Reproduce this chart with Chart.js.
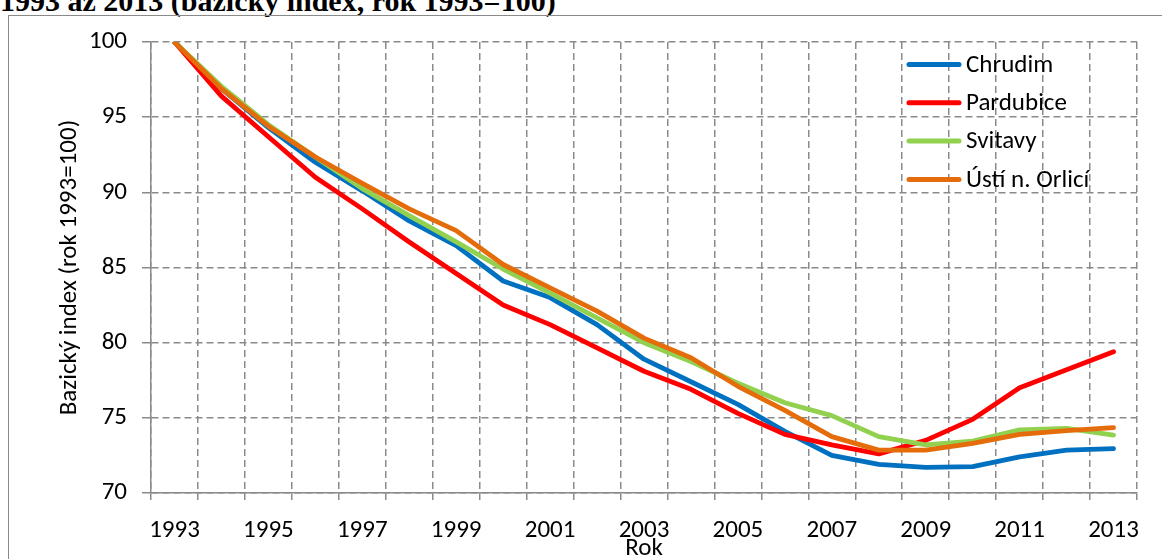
<!DOCTYPE html>
<html>
<head>
<meta charset="utf-8">
<script src="https://cdn.jsdelivr.net/npm/chart.js@4"></script>
<style>
  body { margin: 0; background: #fff; overflow: hidden; }
  #wrap { position: relative; width: 1162px; height: 559px; }
  #nadpis { position: absolute; left: 0; top: -14px; font: bold 30px/1 "Liberation Serif", "Times New Roman", serif; color: #000; white-space: nowrap; }
  #ramecek { position: absolute; left: 8px; top: 15px; width: 1170px; height: 570px; border: 1.5px solid #8a8a8a; }
  #myChart { position: absolute; left: 0; top: 0; }
</style>
</head>
<body>
<div id="wrap">
  <div id="nadpis">1993 až 2013 (bazický index, rok 1993=100)</div>
  <div id="ramecek"></div>
  <canvas id="myChart" width="1162" height="559"></canvas>
</div>
<script>
const roky = ['1993','1994','1995','1996','1997','1998','1999','2000','2001','2002','2003',
              '2004','2005','2006','2007','2008','2009','2010','2011','2012','2013'];
const nazvy = ['Chrudim', 'Pardubice', 'Svitavy', 'Ústí n. Orlicí'];
const barvy = ['#0070C0', '#FF0000', '#92D050', '#E46C0A'];

const chrudim   = [100, 96.9, 94.3, 92.0, 90.1, 88.1, 86.45, 84.1, 83.0, 81.2, 78.9,
                   77.4, 75.9, 74.1, 72.5, 71.9, 71.7, 71.75, 72.4, 72.85, 72.95];
const pardubice = [100, 96.4, 93.7, 91.0, 88.9, 86.7, 84.6, 82.5, 81.2, 79.65, 78.1,
                   76.9, 75.3, 73.9, 73.2, 72.6, 73.5, 74.9, 77.0, 78.2, 79.4];
const svitavy   = [100, 97.05, 94.5, 92.35, 90.25, 88.45, 86.7, 84.9, 83.3, 81.65, 80.0,
                   78.75, 77.3, 76.0, 75.15, 73.75, 73.2, 73.45, 74.2, 74.3, 73.85];
const usti      = [100, 96.9, 94.4, 92.35, 90.6, 88.9, 87.45, 85.2, 83.65, 82.1, 80.3,
                   79.0, 77.1, 75.5, 73.75, 72.85, 72.85, 73.3, 73.9, 74.15, 74.35];
const serie = [chrudim, pardubice, svitavy, usti];

const pismo = 'Carlito, Calibri, Lato, sans-serif';
const seda = '#8a8a8a';

// legenda uvnitr grafu (jako v Excelu)
const legenda = {
  id: 'legenda',
  afterDraw(chart) {
    const c = chart.ctx;
    c.save();
    c.font = '25px ' + pismo;
    c.textBaseline = 'middle';
    c.lineCap = 'round';
    chart.data.datasets.forEach((ds, i) => {
      const y = 64.5 + i * 38.3;
      c.strokeStyle = ds.borderColor;
      c.lineWidth = 5;
      c.beginPath();
      c.moveTo(909, y);
      c.lineTo(959, y);
      c.stroke();
      c.fillStyle = '#000';
      c.fillText(ds.label, 966, y + 1);
    });
    c.restore();
  }
};

new Chart(document.getElementById('myChart'), {
  type: 'line',
  data: {
    labels: roky,
    datasets: serie.map((d, i) => ({
      label: nazvy[i],
      data: d,
      borderColor: barvy[i],
      backgroundColor: barvy[i],
      borderWidth: 4.8,
      pointRadius: 0,
      tension: 0,
      borderCapStyle: 'round',
      borderJoinStyle: 'round',
      order: 4 - i
    }))
  },
  options: {
    responsive: false,
    animation: false,
    layout: { padding: { top: 42, right: 25, left: 0, bottom: 0 } },
    plugins: { legend: { display: false }, tooltip: { enabled: false } },
    scales: {
      x: {
        offset: true,
        afterFit: (s) => { s.height = 66; },
        grid: { offset: true, color: seda, lineWidth: 1.5, tickLength: 7, tickColor: seda, tickWidth: 1.5, tickBorderDash: [] },
        border: { color: seda, width: 1.5, dash: [7, 4] },
        ticks: {
          autoSkip: false, maxRotation: 0, padding: 16, color: '#000',
          font: { family: pismo, size: 25 },
          callback: function (v, i) { return i % 2 === 0 ? this.getLabelForValue(v) : ''; }
        },
        title: { display: true, text: 'Rok', color: '#000', font: { family: pismo, size: 25, lineHeight: 1 }, padding: { top: 0, bottom: -2 } }
      },
      y: {
        min: 70, max: 100,
        afterFit: (s) => { s.width = 151; },
        grid: { color: seda, lineWidth: 1.5, tickLength: 9, tickColor: seda, tickWidth: 1.5, tickBorderDash: [] },
        border: { color: seda, width: 1.5, dash: [7, 4] },
        ticks: { stepSize: 5, padding: 15, color: '#000', font: { family: pismo, size: 25 } },
        title: { display: true, text: 'Bazický index (rok 1993=100)', color: '#000', font: { family: pismo, size: 25, lineHeight: 1.2 }, padding: { top: 55, bottom: 0 } }
      }
    }
  },
  plugins: [legenda]
});
</script>
</body>
</html>
